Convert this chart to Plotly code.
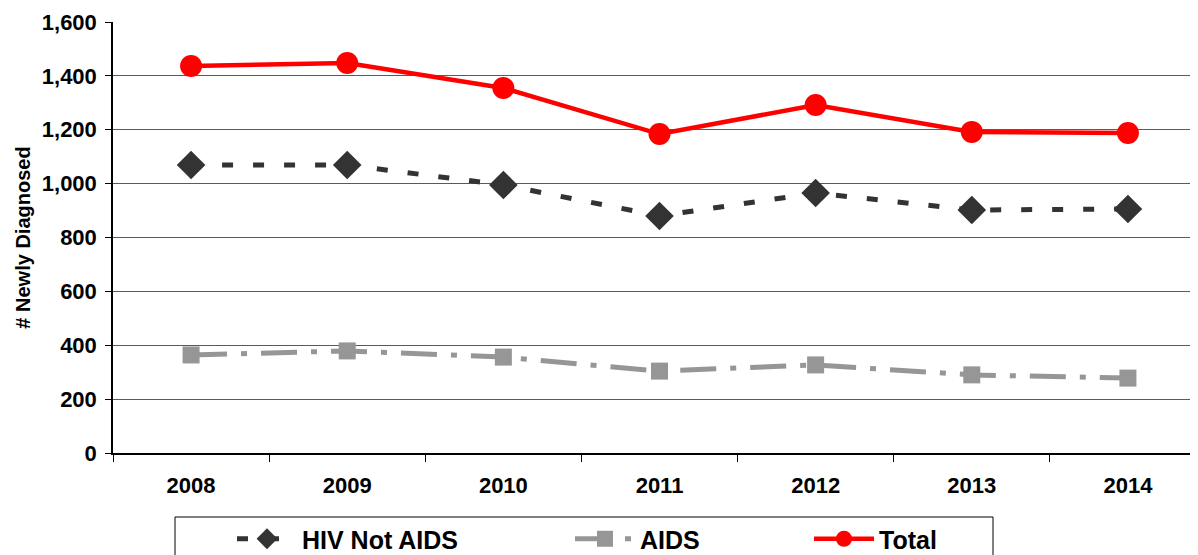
import plotly.graph_objects as go

years = ["2008", "2009", "2010", "2011", "2012", "2013", "2014"]
hiv_not_aids = [1069, 1069, 995, 880, 965, 902, 906]
aids = [364, 379, 356, 304, 327, 290, 278]
total = [1437, 1448, 1355, 1184, 1292, 1192, 1188]
y_ticks = [0, 200, 400, 600, 800, 1000, 1200, 1400, 1600]

FONT = "Liberation Sans, Arial, sans-serif"
W, H = 1198, 555
OFF = 8  # page body margin in the browser
ML, MR, MT, MB = 105, 0, 14, 110
PW = W - ML - MR
PH = H - MT - MB


def px_x(p):
    return (p - OFF - ML) / PW


def px_y(p):
    return (H - MB - (p - OFF)) / PH


fig = go.Figure()
fig.add_trace(go.Scatter(
    x=years, y=hiv_not_aids, name="HIV Not AIDS", mode="lines+markers",
    line=dict(color="#333333", width=5, dash="11px,20px"),
    marker=dict(symbol="diamond", size=22, color="#333333"),
    legend="legend", showlegend=True,
))
fig.add_trace(go.Scatter(
    x=years, y=aids, name="AIDS", mode="lines+markers",
    line=dict(color="#969696", width=5, dash="36px,14px,6px,14px"),
    marker=dict(symbol="square", size=17, color="#969696"),
    legend="legend2", showlegend=True,
))
fig.add_trace(go.Scatter(
    x=years, y=total, name="Total", mode="lines+markers",
    line=dict(color="#ff0000", width=4.5),
    marker=dict(symbol="circle", size=22, color="#ff0000"),
    legend="legend3", showlegend=True,
))

leg_common = dict(
    orientation="h", yanchor="middle", xanchor="left",
    font=dict(family=FONT, size=25, color="black", weight="bold"),
    bgcolor="rgba(0,0,0,0)", borderwidth=0, itemwidth=60, visible=True,
)

fig.update_layout(
    width=W, height=H,
    showlegend=True,
    margin=dict(l=ML, r=MR, t=MT, b=MB, autoexpand=False),
    paper_bgcolor="white", plot_bgcolor="white",
    font=dict(family=FONT, color="black"),
    legend=dict(x=px_x(232), y=px_y(539), **leg_common),
    legend2=dict(x=px_x(570), y=px_y(539), **leg_common),
    legend3=dict(x=px_x(809), y=px_y(539), **leg_common),
    shapes=[dict(
        type="rect", xref="paper", yref="paper",
        x0=px_x(175), x1=px_x(993), y0=px_y(517), y1=px_y(600),
        line=dict(color="black", width=1), fillcolor="rgba(0,0,0,0)", layer="below",
    )],
)

fig.update_xaxes(
    type="category", range=[-0.5, 6.5], automargin=False,
    showline=True, linecolor="black", linewidth=1.5,
    showgrid=False, zeroline=False,
    ticks="outside", tickson="boundaries", ticklen=7, tickcolor="black",
    ticklabelstandoff=12,
    tickfont=dict(family=FONT, size=22, color="black", weight="bold"),
)
fig.update_yaxes(
    range=[0, 1600], tickvals=y_ticks, tickformat=",", automargin=False,
    showline=True, linecolor="black", linewidth=1.5,
    showgrid=True, gridcolor="#5a5a5a", gridwidth=1, zeroline=False,
    ticks="outside", ticklen=6, tickcolor="black",
    ticklabelstandoff=4,
    tickfont=dict(family=FONT, size=22, color="black", weight="bold"),
    title=dict(text="# Newly Diagnosed", standoff=6,
               font=dict(family=FONT, size=20, color="black", weight="bold")),
)

fig.write_html("out.html")
